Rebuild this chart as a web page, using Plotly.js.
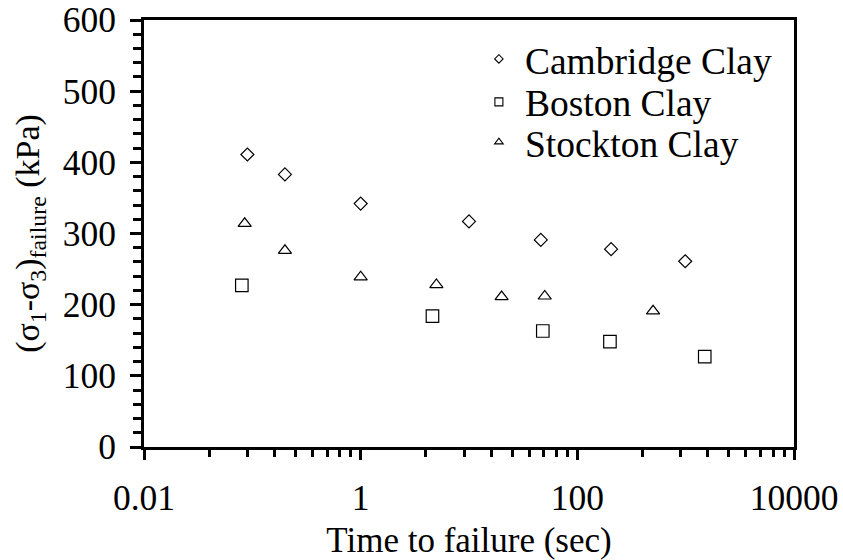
<!DOCTYPE html>
<html>
<head>
<meta charset="utf-8">
<script src="https://cdn.plot.ly/plotly-3.0.1.min.js"></script>
<style>html,body{margin:0;padding:0;background:#fff;}#chart{width:843px;height:560px;}</style>
</head>
<body>
<div id="chart"></div>
<script>
// Data
var cambridgeTime = [0.09, 0.2, 1, 10, 46, 205, 990];
var cambridgeStress = [411, 383, 342, 317, 291, 278, 261];
var bostonTime = [0.08, 4.6, 48, 200, 1500];
var bostonStress = [227, 184, 163, 148, 127];
var stocktonTime = [0.085, 0.2, 1, 5, 20, 50, 500];
var stocktonStress = [314, 276, 239, 228, 211, 212, 191];
var seriesNames = ['Cambridge Clay', 'Boston Clay', 'Stockton Clay'];
var xTickVals = [0.01, 1, 100, 10000];
var xTickText = ['0.01', '1', '100', '10000'];

// minor ticks: Excel-style base-100 log axis subdivisions
var minorX = [];
[0.01, 1, 100].forEach(function (m) {
  for (var k = 2; k <= 9; k++) minorX.push(m * k * k);
});

var FONT = 'Liberation Serif, Times New Roman, serif';

function pts(x, y, sym, sz, name) {
  return {x: x, y: y, mode: 'markers', type: 'scatter', name: name, showlegend: false,
    marker: {symbol: sym, size: sz, color: '#000', line: {color: '#000', width: 1.2}}};
}
function leg(sym, name, sz, lg) {
  return {x: [null], y: [null], mode: 'markers', type: 'scatter', name: name, legend: lg,
    marker: {symbol: sym, size: sz, color: '#000', line: {color: '#000', width: 1.1}}};
}

var data = [
  pts(cambridgeTime, cambridgeStress, 'diamond-open', 10, seriesNames[0]),
  pts(bostonTime, bostonStress, 'square-open', 12.5, seriesNames[1]),
  pts(stocktonTime, stocktonStress, 'triangle-up-open', 11.5, seriesNames[2]),
  leg('diamond-open', seriesNames[0], 6.5, 'legend'),
  leg('square-open', seriesNames[1], 8, 'legend2'),
  leg('triangle-up-open', seriesNames[2], 7.5, 'legend3')
];

function legBox(y) {
  return {x: 0.506, y: y, xanchor: 'left', yanchor: 'middle', bgcolor: 'rgba(0,0,0,0)',
    font: {family: FONT, size: 37.5, color: '#000'}, itemwidth: 42, borderwidth: 0};
}

var layout = {
  width: 843, height: 560,
  margin: {l: 144, r: 49, t: 20, b: 113},
  paper_bgcolor: '#fff', plot_bgcolor: '#fff',
  font: {family: FONT, color: '#000', size: 35.5},
  showlegend: true,
  legend: legBox(0.9086),
  legend2: legBox(0.808),
  legend3: legBox(0.714),
  xaxis: {
    type: 'log', range: [-2, 4], tickmode: 'array', tickvals: xTickVals, ticktext: xTickText,
    showgrid: false, zeroline: false, showline: true, linecolor: '#000', linewidth: 3, mirror: true,
    ticks: 'outside', ticklen: 10, tickwidth: 3, tickcolor: '#000', ticklabelstandoff: 7,
    tickfont: {family: FONT, size: 35.5, color: '#000'},
    minor: {tickmode: 'array', tickvals: minorX, ticks: 'outside', ticklen: 7, tickwidth: 3, tickcolor: '#000', showgrid: false},
    title: {text: 'Time to failure (sec)', font: {family: FONT, size: 35, color: '#000'}, standoff: 15}
  },
  yaxis: {
    range: [0, 600], dtick: 100, tick0: 0,
    showgrid: false, zeroline: false, showline: true, linecolor: '#000', linewidth: 3, mirror: true,
    ticks: 'outside', ticklen: 11, tickwidth: 3, tickcolor: '#000', ticklabelstandoff: 7,
    tickfont: {family: FONT, size: 35.5, color: '#000'},
    minor: {dtick: 20, ticks: 'outside', ticklen: 8, tickwidth: 3, tickcolor: '#000', showgrid: false},
    title: {text: '(σ<sub>1</sub>-σ<sub>3</sub>)<sub>failure</sub> (kPa)', font: {family: FONT, size: 34, color: '#000'}, standoff: 13}
  }
};

Plotly.newPlot('chart', data, layout, {displayModeBar: false, staticPlot: true});
</script>
</body>
</html>
